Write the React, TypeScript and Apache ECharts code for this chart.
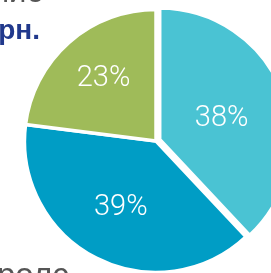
import React, { useEffect, useRef } from "react";
import * as echarts from "echarts";

const categories = ["A", "B", "C"];
const values = [38, 39, 23];
const colors = ["#4AC3D3", "#009DC5", "#9FBB59"];
const labelShift = [
  [-2, 2],
  [-4, 3],
  [-7, -13],
];

export default function App() {
  const ref = useRef<HTMLDivElement>(null);
  useEffect(() => {
    if (!ref.current) return;
    const chart = echarts.init(ref.current, null, { renderer: "svg" });
    chart.setOption({
      animation: false,
      graphic: [
        {
          type: "text",
          left: -8,
          top: -24,
          style: { text: "ние", fontSize: 31, fontFamily: "Arial, Liberation Sans", fill: "#555555" },
        },
        {
          type: "text",
          right: 231,
          top: 15,
          style: { text: "грн.", fontSize: 28, fontWeight: "bold", fontFamily: "Arial, Liberation Sans", fill: "#21398C" },
        },
        {
          type: "text",
          left: -3,
          top: 258,
          style: { text: "ролс", fontSize: 33, fontFamily: "Arial, Liberation Sans", fill: "#555555" },
        },
      ],
      series: [
        {
          type: "pie",
          center: [156, 141],
          radius: 131.5,
          startAngle: 90,
          clockwise: true,
          selectedMode: "single",
          selectedOffset: 4,
          itemStyle: { borderColor: "#ffffff", borderWidth: 3.5 },
          emphasis: { disabled: true },
          label: {
            show: true,
            position: "inside",
            formatter: "{c}%",
            color: "#ffffff",
            fontSize: 29,
            fontWeight: 300,
            fontFamily: "Roboto",
          },
          labelLine: { show: false },
          labelLayout: (p: any) => ({ dx: labelShift[p.dataIndex][0], dy: labelShift[p.dataIndex][1] }),
          data: categories.map((c, i) => ({
            name: c,
            value: values[i],
            selected: i === 0,
            itemStyle: { color: colors[i] },
            select: { itemStyle: { color: colors[i], borderColor: "#ffffff", borderWidth: 3.5 } },
          })),
        },
      ],
    });
    return () => chart.dispose();
  }, []);
  return <div ref={ref} style={{ position: "fixed", left: 0, top: 0, width: 271, height: 273 }} />;
}
